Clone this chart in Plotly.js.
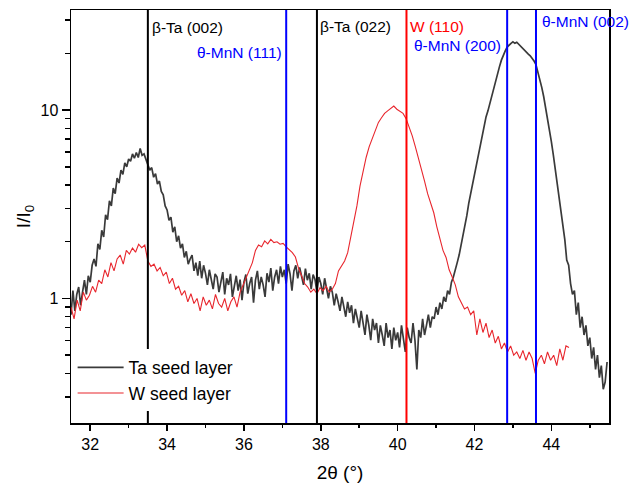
<!DOCTYPE html>
<html>
<head>
<meta charset="utf-8">
<script src="https://cdn.plot.ly/plotly-3.0.1.min.js"></script>
<style>html,body{margin:0;padding:0;background:#fff;}#chart{width:634px;height:485px;}</style>
</head>
<body>
<div id="chart"></div>
<script>
// Ta seed layer: 2theta (deg) and normalized intensity I/I0
const taTwoTheta = [
31.5,31.55,31.6,31.65,31.7,31.75,31.8,31.85,31.9,31.95,
32,32.05,32.1,32.15,32.2,32.25,32.3,32.35,32.4,32.45,
32.5,32.55,32.6,32.65,32.7,32.75,32.8,32.85,32.9,32.95,
33,33.05,33.1,33.15,33.2,33.25,33.3,33.35,33.4,33.45,
33.5,33.55,33.6,33.65,33.7,33.75,33.8,33.85,33.9,33.95,
34,34.05,34.1,34.15,34.2,34.25,34.3,34.35,34.4,34.45,
34.5,34.55,34.6,34.65,34.7,34.75,34.8,34.85,34.9,34.95,
35,35.05,35.1,35.15,35.2,35.25,35.3,35.35,35.4,35.45,
35.5,35.55,35.6,35.65,35.7,35.75,35.8,35.85,35.9,35.95,
36,36.05,36.1,36.15,36.2,36.25,36.3,36.35,36.4,36.45,
36.5,36.55,36.6,36.65,36.7,36.75,36.8,36.85,36.9,36.95,
37,37.05,37.1,37.15,37.2,37.25,37.3,37.35,37.4,37.45,
37.5,37.55,37.6,37.65,37.7,37.75,37.8,37.85,37.9,37.95,
38,38.05,38.1,38.15,38.2,38.25,38.3,38.35,38.4,38.45,
38.5,38.55,38.6,38.65,38.7,38.75,38.8,38.85,38.9,38.95,
39,39.05,39.1,39.15,39.2,39.25,39.3,39.35,39.4,39.45,
39.5,39.55,39.6,39.65,39.7,39.75,39.8,39.85,39.9,39.95,
40,40.05,40.1,40.15,40.2,40.25,40.3,40.35,40.4,40.45,
40.5,40.55,40.6,40.65,40.7,40.75,40.8,40.85,40.9,40.95,
41,41.05,41.1,41.15,41.2,41.25,41.3,41.35,41.4,41.45,
41.5,41.55,41.6,41.65,41.7,41.75,41.8,41.85,41.9,41.95,
42,42.05,42.1,42.15,42.2,42.25,42.3,42.35,42.4,42.45,
42.5,42.55,42.6,42.65,42.7,42.75,42.8,42.85,42.9,42.95,
43,43.05,43.1,43.15,43.2,43.25,43.3,43.35,43.4,43.45,
43.5,43.55,43.6,43.65,43.7,43.75,43.8,43.85,43.9,43.95,
44,44.05,44.1,44.15,44.2,44.25,44.3,44.35,44.4,44.45,
44.5,44.55,44.6,44.65,44.7,44.75,44.8,44.85,44.9,44.95,
45,45.05,45.1,45.15,45.2,45.25,45.3,45.35,45.4,45.45
];
const taIntensity = [
0.82,1.10,0.86,1.05,1.15,0.92,1.08,1.25,1.05,1.32,
1.22,1.50,1.62,1.48,1.95,1.82,2.30,2.12,2.78,2.62,
3.30,3.10,3.85,3.60,4.35,4.10,4.80,4.55,5.25,5.00,
5.50,5.35,5.85,5.55,5.95,5.60,6.25,5.75,5.85,5.45,
5.10,4.80,4.95,4.40,4.60,4.05,4.20,3.70,3.55,3.10,
2.95,2.60,2.70,2.25,2.40,2.00,2.15,1.85,1.95,1.65,
1.78,1.52,1.62,1.70,1.40,1.55,1.32,1.58,1.28,1.50,
1.36,1.18,1.42,1.25,1.12,1.35,1.30,1.08,1.24,1.38,
1.05,1.28,1.18,1.35,1.02,1.15,1.32,1.10,1.26,0.98,
1.22,1.34,1.06,1.20,1.30,0.95,1.25,1.40,1.12,1.30,
1.18,1.02,1.36,1.22,1.45,1.10,1.30,1.42,1.20,1.48,
1.30,1.42,1.20,1.52,1.35,1.10,1.40,1.50,1.28,1.46,
1.32,1.18,1.44,1.25,1.36,1.12,1.34,1.26,1.08,1.30,
1.20,1.05,1.28,1.14,1.00,1.16,1.08,0.92,1.06,0.96,
0.86,1.02,0.90,0.80,0.96,0.84,0.92,0.74,0.88,0.80,
0.70,0.86,0.76,0.64,0.82,0.72,0.60,0.78,0.68,0.74,
0.58,0.72,0.64,0.56,0.74,0.62,0.68,0.54,0.70,0.60,
0.66,0.55,0.72,0.60,0.52,0.70,0.62,0.58,0.74,0.60,
0.42,0.68,0.62,0.78,0.64,0.72,0.82,0.70,0.80,0.78,
0.90,0.82,0.95,0.88,1.02,0.96,1.10,1.05,1.22,1.30,
1.40,1.55,1.70,1.90,2.15,2.40,2.75,3.20,3.60,4.05,
4.60,5.20,6.00,6.70,7.50,8.40,9.20,9.90,10.9,12.0,
13.0,14.3,15.6,17.0,18.4,19.6,20.6,21.6,22.2,22.6,
23.0,22.6,22.9,22.3,21.8,21.3,20.8,20.3,19.8,19.4,
18.9,18.2,17.4,16.0,14.6,13.2,11.8,10.4,9.0,8.0,
6.8,5.8,4.9,4.1,3.5,2.9,2.4,2.05,1.60,1.50,
1.20,1.05,1.10,0.82,0.95,0.70,0.80,0.64,0.72,0.56,
0.62,0.48,0.55,0.42,0.50,0.38,0.44,0.33,0.36,0.46
];

// W seed layer
const wTwoTheta = [
31.5,31.58,31.66,31.74,31.82,31.9,31.98,32.06,32.14,32.22,
32.3,32.38,32.46,32.54,32.62,32.7,32.78,32.86,32.94,33.02,
33.1,33.18,33.26,33.34,33.42,33.5,33.58,33.66,33.74,33.82,
33.9,33.98,34.06,34.14,34.22,34.3,34.38,34.46,34.54,34.62,
34.7,34.78,34.86,34.94,35.02,35.1,35.18,35.26,35.34,35.42,
35.5,35.58,35.66,35.74,35.82,35.9,35.98,36.06,36.14,36.22,
36.3,36.38,36.46,36.54,36.62,36.7,36.78,36.86,36.94,37.02,
37.1,37.18,37.26,37.34,37.42,37.5,37.58,37.66,37.74,37.82,
37.9,37.98,38.06,38.14,38.22,38.3,38.38,38.46,38.54,38.62,
38.7,38.78,38.86,38.94,39.02,39.1,39.18,39.26,39.34,39.42,
39.5,39.58,39.66,39.74,39.82,39.9,39.98,40.06,40.14,40.22,
40.3,40.38,40.46,40.54,40.62,40.7,40.78,40.86,40.94,41.02,
41.1,41.18,41.26,41.34,41.42,41.5,41.58,41.66,41.74,41.82,
41.9,41.98,42.06,42.14,42.22,42.3,42.38,42.46,42.54,42.62,
42.7,42.78,42.86,42.94,43.02,43.1,43.18,43.26,43.34,43.42,
43.5,43.58,43.66,43.74,43.82,43.9,43.98,44.06,44.14,44.22,
44.3,44.38,44.46
];
const wIntensity = [
0.90,0.78,0.98,0.86,1.08,0.98,1.04,1.16,1.08,1.25,
1.20,1.42,1.30,1.55,1.40,1.62,1.70,1.52,1.80,1.72,
1.85,1.76,1.94,1.86,1.92,1.58,1.48,1.52,1.40,1.46,
1.32,1.38,1.20,1.28,1.12,1.16,1.04,1.10,0.96,1.06,
0.94,1.00,0.86,1.02,0.92,0.98,0.88,1.05,0.94,0.90,
1.00,0.86,0.96,1.02,0.90,1.08,1.18,1.30,1.42,1.55,
1.80,1.92,1.88,2.02,1.95,2.06,1.98,2.00,1.94,1.96,
1.88,1.82,1.75,1.66,1.45,1.32,1.20,1.15,1.08,1.12,
1.06,1.14,1.10,1.16,1.08,1.12,1.20,1.40,1.50,1.58,
1.75,2.10,2.60,3.10,3.95,4.80,5.60,6.40,7.10,7.90,
8.60,9.10,9.60,9.90,10.2,10.5,10.1,9.85,9.60,9.00,
8.20,7.30,6.40,5.60,4.80,4.20,3.60,3.20,2.85,2.40,
2.05,1.80,1.65,1.42,1.30,1.18,1.02,0.95,0.88,0.90,
0.82,0.86,0.64,0.78,0.66,0.74,0.62,0.68,0.58,0.63,
0.54,0.58,0.52,0.56,0.50,0.52,0.48,0.53,0.47,0.52,
0.48,0.40,0.47,0.50,0.45,0.52,0.47,0.50,0.44,0.54,
0.47,0.56,0.55
];

// Reference peak positions (2theta) and labels
const peakPositions = [33.5, 37.1, 37.9, 40.23, 42.85, 43.6];
const peakLineColors = ['#000000', '#0000ff', '#000000', '#ff0000', '#0000ff', '#0000ff'];
const peakLabels = ['β-Ta (002)', 'θ-MnN (111)', 'β-Ta (022)', 'W (110)', 'θ-MnN (200)', 'θ-MnN (002)'];

const seriesNames = ['Ta seed layer', 'W seed layer'];
const xTickValues = [32, 34, 36, 38, 40, 42, 44];
const yTickValues = [1, 10];
const yMinorTickValues = [0.3,0.4,0.5,0.6,0.7,0.8,0.9,2,3,4,5,6,7,8,9,20,30];

// label placement (layout only)
const labelPlace = [
  {pos: 0, xanchor: 'left', xshift: 2, y: 0.957},
  {pos: 1, xanchor: 'right', xshift: -2, y: 0.896},
  {pos: 2, xanchor: 'left', xshift: 1, y: 0.959},
  {pos: 3, xanchor: 'left', xshift: 2, y: 0.959},
  {pos: 3, xanchor: 'left', xshift: 6, y: 0.915, idx: 4},
  {pos: 5, xanchor: 'left', xshift: 4, y: 0.972}
];

const FONT = '"Liberation Sans", Arial, sans-serif';

const traces = [
  {x: taTwoTheta, y: taIntensity, name: seriesNames[0], type: 'scatter', mode: 'lines',
   line: {color: '#3a3a3a', width: 1.7}},
  {x: wTwoTheta, y: wIntensity, name: seriesNames[1], type: 'scatter', mode: 'lines',
   line: {color: '#e8262d', width: 1.1}}
];

const shapes = peakPositions.map((p, i) => ({
  type: 'line', xref: 'x', yref: 'paper', x0: p, x1: p, y0: 0, y1: 1,
  line: {color: peakLineColors[i], width: 2}, layer: 'above'
}));

const annotations = labelPlace.map((lp) => {
  const idx = (lp.idx !== undefined) ? lp.idx : lp.pos;
  return {
    text: peakLabels[idx], xref: 'x', yref: 'paper', x: peakPositions[lp.pos], y: lp.y,
    xanchor: lp.xanchor, yanchor: 'middle', xshift: lp.xshift, showarrow: false,
    font: {family: FONT, size: 15.5, color: peakLineColors[idx]}
  };
});

const layout = {
  width: 634, height: 485,
  margin: {l: 71, r: 25, t: 10, b: 62, pad: 0},
  paper_bgcolor: '#ffffff', plot_bgcolor: '#ffffff',
  font: {family: FONT, size: 16, color: '#000'},
  showlegend: true,
  legend: {x: 0.003, xanchor: 'left', y: 0.028, yanchor: 'bottom', bgcolor: '#ffffff',
           borderwidth: 0, font: {family: FONT, size: 17.5, color: '#000'}, tracegroupgap: 0,
           itemwidth: 46},
  xaxis: {
    type: 'linear', range: [31.5, 45.5], showgrid: false, zeroline: false,
    showline: true, linecolor: '#000', linewidth: 1.5, mirror: true,
    ticks: 'outside', ticklen: 6, tickwidth: 1.5, tickcolor: '#000',
    tickmode: 'array', tickvals: xTickValues,
    tickfont: {family: FONT, size: 16, color: '#000'},
    minor: {dtick: 1, ticks: 'outside', ticklen: 3.5, tickwidth: 1.5, tickcolor: '#000', showgrid: false},
    title: {text: '2θ (°)', font: {family: FONT, size: 19, color: '#000'}, standoff: 14}
  },
  yaxis: {
    type: 'log', range: [-0.661, 1.531], showgrid: false, zeroline: false,
    showline: true, linecolor: '#000', linewidth: 1.5, mirror: true,
    ticks: 'outside', ticklen: 8, tickwidth: 1.5, tickcolor: '#000',
    tickmode: 'array', tickvals: yTickValues, ticktext: yTickValues.map(String),
    tickfont: {family: FONT, size: 16, color: '#000'},
    minor: {tickmode: 'array', tickvals: yMinorTickValues, ticks: 'outside', ticklen: 5,
            tickwidth: 1.5, tickcolor: '#000', showgrid: false},
    title: {text: 'I/I<sub>0</sub>', font: {family: FONT, size: 19, color: '#000'}, standoff: 5}
  },
  shapes: shapes,
  annotations: annotations
};

Plotly.newPlot('chart', traces, layout, {displayModeBar: false, staticPlot: true});
</script>
</body>
</html>
